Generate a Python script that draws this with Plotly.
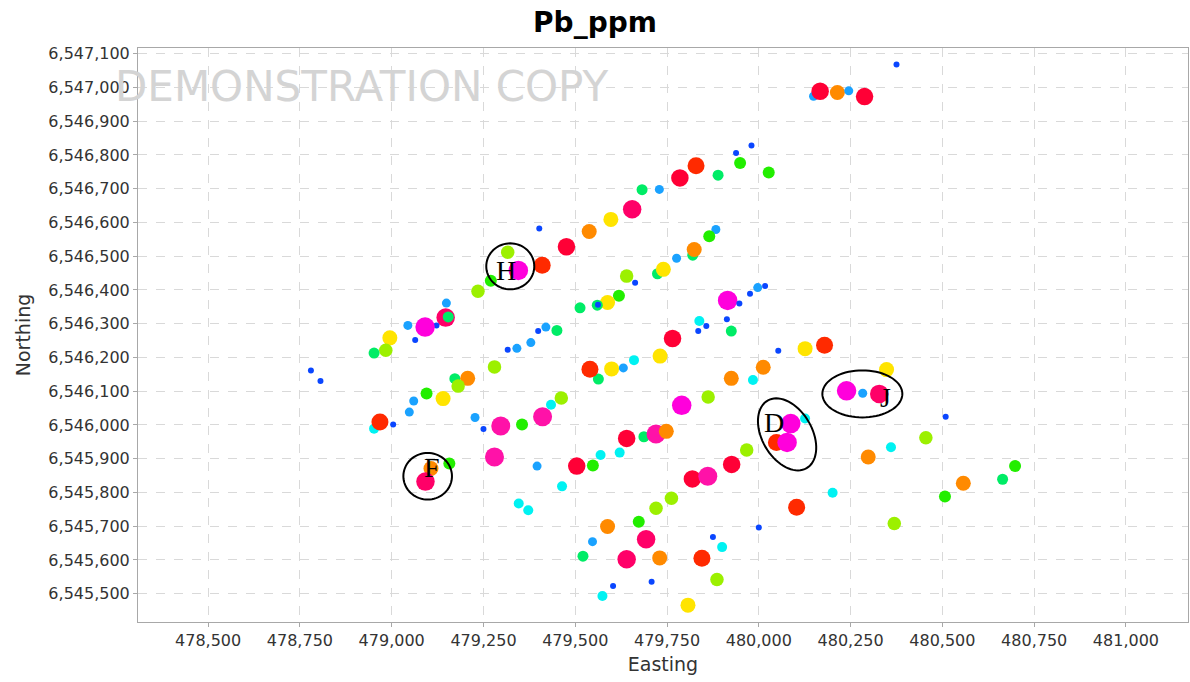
import numpy as np
import plotly.graph_objects as go

# Sample locations (UTM metres) and Pb assay values (ppm)
easting = [
    480375, 480149, 480167, 480214, 480245, 480288,
    479980, 479938, 479949, 480027, 479889, 479829, 479785, 479682, 479729,
    479655, 479597, 479538, 479476, 479402, 479410, 479316, 479345, 479270,
    479235, 479149, 479147, 479154, 479122, 479091, 479044, 479064, 478995,
    478984, 478952, 478780, 478806,
    479883, 479865, 479820, 479824, 479776, 479724, 479740, 479640, 479663,
    479619, 479588, 479560, 479562, 479513, 479450, 479420, 479399, 479379,
    479341, 479316, 479280, 479172, 479207, 479181, 479140, 479095, 479060,
    479048, 479004, 478952, 478968,
    479915, 479947, 479976, 479997, 480017, 480053, 480126, 480179, 479913,
    479925, 479838, 479857, 479835, 479765, 479731, 479660, 479631, 479599,
    479563, 479540, 480012, 479984, 479925, 479862, 479790,
    479462, 479434, 479411, 479355, 479297, 479250, 479227,
    479640, 479687, 479720, 479748, 479621, 479569, 479504, 479548, 479464,
    479396, 479280, 479157, 479107, 479092, 479346, 479372,
    480126, 480087, 480048, 480077, 480239, 480283, 480328, 480348,
    480509, 480455, 480360, 480298, 480557, 480507, 480664, 480698, 480201,
    480103, 480369, 480000,
    479967, 479926, 479819, 479861, 479762, 479720, 479673, 479588, 479547,
    479521, 479693, 479640, 479730, 479845, 479875, 479900, 479886, 479603,
    479708, 479574, 479807,
]
northing = [
    6547068, 6546974, 6546989, 6546985, 6546990, 6546973,
    6546828, 6546806, 6546776, 6546748, 6546740, 6546768, 6546732, 6546697, 6546698,
    6546639, 6546609, 6546573, 6546528, 6546582, 6546473, 6546512, 6546458, 6546427,
    6546396, 6546361, 6546318, 6546320, 6546295, 6546290, 6546295, 6546252, 6546258,
    6546221, 6546213, 6546161, 6546130,
    6546579, 6546559, 6546503, 6546520, 6546494, 6546448, 6546461, 6546441, 6546421,
    6546383, 6546363, 6546355, 6546356, 6546347, 6546280, 6546290, 6546278, 6546244,
    6546227, 6546223, 6546172, 6546137, 6546138, 6546115, 6546078, 6546093, 6546071,
    6546038, 6546001, 6545989, 6546009,
    6546369, 6546360, 6546389, 6546407, 6546412, 6546220, 6546226, 6546236, 6546313,
    6546278, 6546308, 6546293, 6546278, 6546256, 6546204, 6546192, 6546169, 6546166,
    6546136, 6546165, 6546171, 6546133, 6546138, 6546083, 6546058,
    6546080, 6546060, 6546024, 6546001, 6545997, 6545988, 6546022,
    6545960, 6545965, 6545973, 6545981, 6545918, 6545911, 6545878, 6545880, 6545818,
    6545878, 6545905, 6545886, 6545871, 6545832, 6545767, 6545747,
    6546019, 6546004, 6545948, 6545948, 6546101, 6546094, 6546092, 6546164,
    6546024, 6545962, 6545934, 6545905, 6545827, 6545788, 6545839, 6545878, 6545799,
    6545756, 6545708, 6545696,
    6545926, 6545883, 6545840, 6545848, 6545783, 6545753, 6545713, 6545699, 6545654,
    6545611, 6545661, 6545602, 6545606, 6545605, 6545668, 6545638, 6545542, 6545523,
    6545535, 6545493, 6545466,
]
pb_ppm = [
    3, 6, 60, 33, 6, 60,
    3, 3, 15, 15, 12, 45, 60, 12, 6,
    80, 26, 33, 60, 3, 45, 20, 140, 15,
    20, 6, 80, 12, 3, 140, 6, 3, 26,
    20, 12, 3, 3,
    6, 15, 12, 33, 6, 12, 26, 20, 3,
    15, 26, 12, 3, 12, 12, 6, 3, 6,
    6, 3, 20, 12, 33, 20, 26, 15, 6,
    6, 3, 9, 45,
    140, 3, 3, 6, 3, 3, 26, 45, 3,
    12, 9, 3, 3, 60, 26, 9, 6, 26,
    12, 45, 33, 9, 33, 20, 140,
    20, 9, 105, 15, 105, 3, 6,
    60, 12, 105, 33, 9, 9, 60, 15, 9,
    6, 105, 15, 33, 80, 9, 9,
    9, 140, 45, 140, 140, 6, 80, 26,
    3, 20, 9, 33, 33, 15, 12, 15, 9,
    45, 20, 3,
    20, 60, 60, 105, 20, 20, 15, 33, 6,
    12, 80, 80, 33, 45, 3, 9, 20, 3,
    3, 9, 26,
]

# Classed legend: upper bounds (ppm), colours and symbol sizes
class_upper = [4.5, 7.5, 10.5, 13.5, 17.5, 23, 29.5, 39, 52, 70, 92, 120]
class_colors = ["#0a46ff", "#1aa2ff", "#00f2f2", "#00ec66", "#22ee00", "#9cf000",
                "#ffe400", "#ff8a00", "#ff2a00", "#ff0036", "#ff0068", "#ff12a8",
                "#ff00dc"]
class_sizes = [6, 9, 10, 11, 12, 13.5, 15, 15, 17, 17.5, 18.5, 19, 19.5]

cls = np.digitize(pb_ppm, class_upper)
colors = [class_colors[c] for c in cls]
sizes = [class_sizes[c] for c in cls]

fig = go.Figure()
fig.add_trace(go.Scatter(
    x=easting, y=northing, mode="markers",
    marker=dict(color=colors, size=sizes, line=dict(width=0), opacity=1),
    customdata=pb_ppm,
    hovertemplate="E %{x}<br>N %{y}<br>Pb %{customdata} ppm<extra></extra>",
    showlegend=False,
))

# Highlighted target zones: centre (E, N), semi-axes (px), rotation (deg)
zone_labels = ["H", "F", "D", "J"]
zone_centre_e = [479323, 479098, 480077, 480282]
zone_centre_n = [6546470, 6545848, 6545972, 6546092]
zone_axes = [(24, 23), (24.3, 23.3), (39, 25), (40, 23.5)]
zone_angle = [0, 0, -60, 0]
label_e = [479310, 479109, 480042, 480346]
label_n = [6546457, 6545873, 6546006, 6546080]


def ellipse_path(a, b, deg, n=72):
    th = np.deg2rad(deg)
    t = np.linspace(0, 2 * np.pi, n, endpoint=False)
    xs = a * np.cos(t) * np.cos(th) - b * np.sin(t) * np.sin(th)
    ys = a * np.cos(t) * np.sin(th) + b * np.sin(t) * np.cos(th)
    pts = " L".join(f"{x:.2f},{y:.2f}" for x, y in zip(xs, ys))
    return "M" + pts + " Z"


for lab, ce, cn, (a, b), ang, le, ln in zip(zone_labels, zone_centre_e, zone_centre_n,
                                            zone_axes, zone_angle, label_e, label_n):
    fig.add_shape(type="path", xref="x", yref="y",
                  xsizemode="pixel", ysizemode="pixel",
                  xanchor=ce, yanchor=cn, path=ellipse_path(a, b, ang),
                  line=dict(color="black", width=2))
    fig.add_annotation(x=le, y=ln, xref="x", yref="y", text=lab, showarrow=False,
                       font=dict(family="Liberation Serif", size=28, color="black"),
                       xanchor="center", yanchor="middle")

# Evaluation-copy watermark across the top-left of the plot
fig.add_annotation(x=(362 - 138) / 1050, y=(622 - 86) / 574, xref="paper", yref="paper",
                   text="DEMONSTRATION COPY", showarrow=False,
                   font=dict(family="DejaVu Sans", size=42, color="#d4d4d4"),
                   xanchor="center", yanchor="middle")

axis_common = dict(
    showline=True, mirror=True, linecolor="#a8a8a8", linewidth=1,
    showgrid=True, gridcolor="#d9d9d9", griddash="dash", gridwidth=1,
    ticks="outside", ticklen=4, tickcolor="#a8a8a8",
    tickfont=dict(family="DejaVu Sans", size=16, color="#333333"),
    zeroline=False, tickformat=",d",
)

fig.update_layout(
    width=1190, height=682,
    margin=dict(l=138, r=2, t=48, b=60),
    paper_bgcolor="white", plot_bgcolor="white",
    title=dict(text="<b>Pb_ppm</b>", x=0.5, xref="container", xanchor="center",
               y=1 - 22 / 682, yref="container", yanchor="middle",
               font=dict(family="DejaVu Sans", size=28, color="black")),
    xaxis=dict(range=[478309, 481169], tick0=478500, dtick=250,
               title=dict(text="Easting", font=dict(family="DejaVu Sans", size=19, color="#333333"),
                          standoff=8),
               **axis_common),
    yaxis=dict(range=[6545416, 6547117], tick0=6545500, dtick=100,
               title=dict(text="Northing", font=dict(family="DejaVu Sans", size=19, color="#333333"),
                          standoff=12),
               **axis_common),
)

fig.write_html("out.html")
